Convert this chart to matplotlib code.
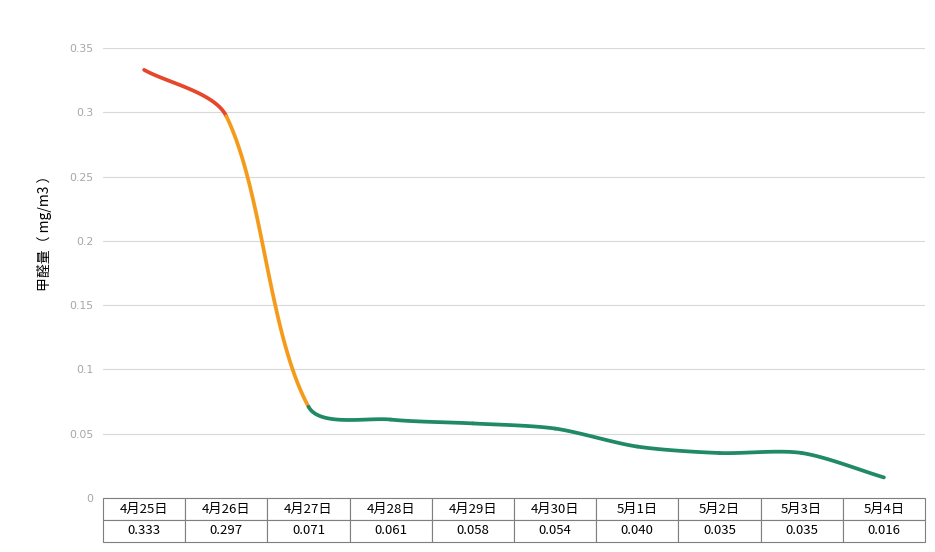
import numpy as np
import matplotlib
matplotlib.use('Agg')
import matplotlib.pyplot as plt

plt.rcParams['font.family'] = ['Noto Sans CJK SC', 'DejaVu Sans']

#--------------------------------
dates  = ['4月25日', '4月26日', '4月27日', '4月28日', '4月29日',
          '4月30日', '5月1日', '5月2日', '5月3日', '5月4日']
values = [0.333, 0.297, 0.071, 0.061, 0.058, 0.054, 0.040, 0.035, 0.035, 0.016]
labels = ['0.333', '0.297', '0.071', '0.061', '0.058', '0.054', '0.040', '0.035', '0.035', '0.016']
yticks = [0, 0.05, 0.1, 0.15, 0.2, 0.25, 0.3, 0.35]
ytick_labels = ['0', '0.05', '0.1', '0.15', '0.2', '0.25', '0.3', '0.35']
seg_colors = ['#e4472a', '#f59b1c'] + ['#1f8a65'] * 7

#--------------------------------
def smoothCurve(px, py, k=0.28, n=40) :
    # bezier pieces, control length scaled by each segment length (pixel space)
    P = np.column_stack([px, py]).astype(float)
    m = len(P)
    T = np.zeros_like(P)
    for i in range(m) :
        a = P[max(i-1,0)]
        b = P[min(i+1,m-1)]
        d = b - a
        T[i] = d / np.hypot(*d)
    segs = []
    t = np.linspace(0, 1, n)[:,None]
    for i in range(m-1) :
        L  = np.hypot(*(P[i+1]-P[i]))
        c1 = P[i]   + T[i]*L*k
        c2 = P[i+1] - T[i+1]*L*k
        pts = (1-t)**3*P[i] + 3*(1-t)**2*t*c1 + 3*(1-t)*t**2*c2 + t**3*P[i+1]
        segs.append(pts)
    return segs

#--------------------------------
fig = plt.figure(figsize=(9.35,5.52), dpi=100, facecolor='w')
ax  = fig.add_axes([103/935., 54/552., 822/935., 450/552.])

ax.set_xlim(0, len(values))
ax.set_ylim(0, 0.35)

x = np.arange(len(values)) + 0.5
# work in pixel space so the smoothing looks like the original
pix = ax.transData.transform(np.column_stack([x, values]))
inv = ax.transData.inverted()
for i, seg in enumerate(smoothCurve(pix[:,0], pix[:,1])) :
    d = inv.transform(seg)
    ax.plot(d[:,0], d[:,1], color=seg_colors[i], lw=2.7, solid_capstyle='round', zorder=3)

ax.set_yticks(yticks)
ax.set_yticklabels(ytick_labels, color='#a6a6a6', fontsize=7.8, family='DejaVu Sans')
ax.set_xticks([])
ax.tick_params(axis='y', length=0, pad=7)
ax.grid(axis='y', color='#d9d9d9', lw=0.8)
for s in ax.spines.values() : s.set_visible(False)
fig.text(44/935., 1-230/552., '甲醛量（ mg/m3 ）', rotation=90, fontsize=10,
         ha='center', va='center')

tab = ax.table(cellText=[dates, labels], cellLoc='center',
               bbox=[0, -44/450., 1, 44/450.])
tab.auto_set_font_size(False)
for key, cell in tab.get_celld().items() :
    cell.set_edgecolor('#7f7f7f')
    cell.set_linewidth(0.8)
    cell.get_text().set_fontsize(9.5)

fig.savefig('out.png', dpi=100)
